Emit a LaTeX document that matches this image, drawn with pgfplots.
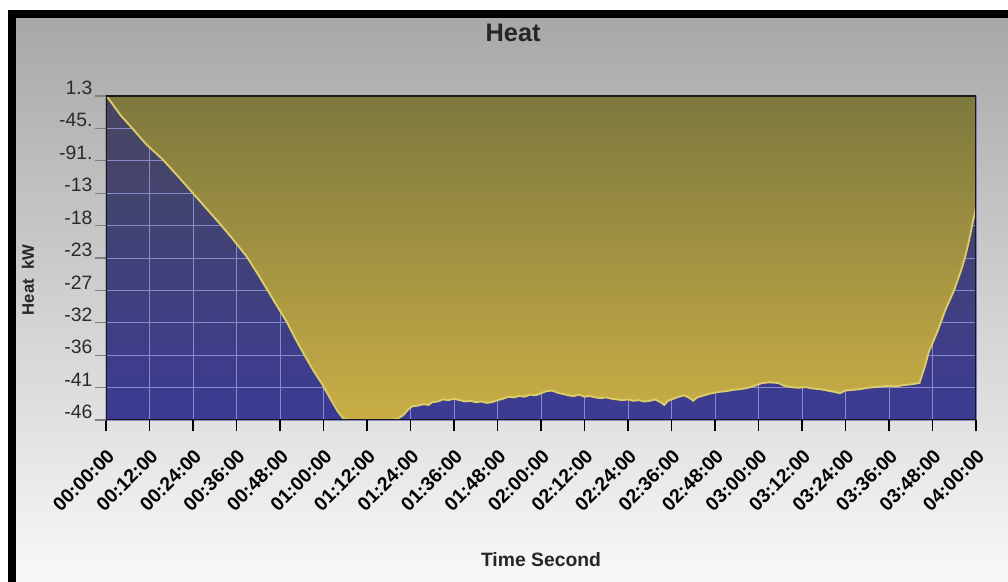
\documentclass[border=0pt]{standalone}
\usepackage{pgfplots}
\usepackage{pgfplotstable}
\pgfplotsset{compat=1.18}
\usepackage{fontspec}
\setmainfont{Liberation Sans}

\definecolor{bgtop}{HTML}{A8A8A8}
\definecolor{bgmid}{HTML}{DADADA}
\definecolor{bgbot}{HTML}{F8F8F8}
\definecolor{navytop}{HTML}{47475F}
\definecolor{navybot}{HTML}{3B3B94}
\definecolor{goldtop}{HTML}{7D783E}
\definecolor{goldbot}{HTML}{C9AE45}
\definecolor{gridc}{HTML}{8A8AC8}
\definecolor{linec}{HTML}{DDCC6A}
\definecolor{ylab}{HTML}{2A2A2A}

\pgfplotstableread{
t v
0 1.3
1 0.7
4 -1.5
7.4 -3.5
11 -5.7
15.7 -8.0
20 -10.5
24 -12.9
28 -15.3
31.5 -17.4
35 -19.6
38.9 -22.2
42 -24.8
44.4 -26.9
47 -29.2
49.9 -31.7
52 -33.9
54.4 -36.2
57 -38.6
59.9 -41.0
62 -43.0
64 -44.8
65.5 -45.8
67 -46
79 -46
80.5 -45.8
82 -45.3
83.5 -44.4
84.5 -44.0
86 -43.9
87.5 -43.7
89 -43.8
90 -43.4
91.5 -43.3
93 -43.0
94.5 -43.1
96 -42.9
97.5 -43.1
99 -43.3
100.5 -43.2
102 -43.4
103.5 -43.3
105 -43.5
106.5 -43.4
108 -43.1
109.5 -42.9
111 -42.6
112.5 -42.7
114 -42.5
115.5 -42.6
117 -42.3
118.5 -42.4
120 -42.1
121.5 -41.8
123 -41.7
124.5 -42.0
126 -42.2
127.5 -42.4
129 -42.5
130.5 -42.3
132 -42.6
133.5 -42.5
135 -42.7
136.5 -42.8
138 -42.7
139.5 -42.9
141 -43.0
142.5 -43.1
144 -43.0
145.5 -43.2
147 -43.1
148.5 -43.3
150 -43.2
151.5 -43.0
153 -43.4
154 -43.8
155 -43.2
156.5 -42.9
158 -42.6
159.5 -42.4
161 -42.8
162 -43.2
163 -42.7
165 -42.4
167 -42.1
169 -41.9
171 -41.8
173 -41.6
175 -41.5
177 -41.3
179 -41.0
181 -40.6
183 -40.5
185.5 -40.6
187 -41.0
189 -41.2
191 -41.3
193 -41.2
195 -41.4
197 -41.5
199 -41.7
201 -41.9
202.5 -42.1
204 -41.7
206 -41.6
208 -41.5
210 -41.3
212 -41.2
214 -41.1
216 -41.0
218 -41.1
220 -40.9
222 -40.8
224.4 -40.6
226 -38.0
227 -36.0
228 -34.8
229.5 -32.9
231.5 -30.0
234 -27.0
236 -24.0
237 -22.2
238 -20.0
239 -17.4
240 -15.0
}\curve

\begin{document}
\begin{tikzpicture}
\useasboundingbox (0,0) rectangle (756pt,436.5pt);
\fill[white] (0,0) rectangle (756pt,436.5pt);
\shade[top color=bgtop, middle color=bgmid, bottom color=bgbot] (12pt,0) rectangle (756pt,423pt);
\fill[black] (6pt,0) rectangle (12pt,429pt);
\fill[black] (6pt,423pt) rectangle (756pt,429pt);
\begin{axis}[
  at={(79.5pt,121.5pt)}, anchor=south west,
  scale only axis, width=652.5pt, height=243pt,
  xmin=0, xmax=240, ymin=-46, ymax=1.3,
  xtick={0,12,...,240},
  xticklabels={00:00:00,00:12:00,00:24:00,00:36:00,00:48:00,01:00:00,01:12:00,01:24:00,01:36:00,01:48:00,02:00:00,02:12:00,02:24:00,02:36:00,02:48:00,03:00:00,03:12:00,03:24:00,03:36:00,03:48:00,04:00:00},
  ytick={1.3,-3.43,-8.16,-12.89,-17.62,-22.35,-27.08,-31.81,-36.54,-41.27,-46},
  yticklabels={1.3,-45.,-91.,-13,-18,-23,-27,-32,-36,-41,-46},
  xtick pos=lower, ytick pos=left,
  grid=major,
  major grid style={gridc, line width=0.7pt},
  axis background/.style={top color=navytop, bottom color=navybot},
  axis line style={draw=none},
  tick align=outside,
  major tick length=8.5pt,
  x tick style={black, line width=1.2pt},
  y tick style={gray, line width=0.8pt},
  xticklabel style={font=\bfseries\fontsize{14.5}{14.5}\selectfont, inner sep=0pt, xshift=3.75pt, yshift=-16pt, rotate=45, anchor=east},
  yticklabel style={font=\fontsize{14.5}{14.5}\selectfont, text=ylab, inner sep=0pt, xshift=-1.5pt, yshift=6pt, anchor=east},
  title={Heat},
  every axis title shift=0pt,
  title style={at={(axis description cs:0.468,1.194)}, anchor=center, font=\bfseries\fontsize{19}{19}\selectfont, text=black!85},
  xlabel={Time Second},
  xlabel style={at={(axis description cs:0.5,-0.432)}, anchor=center, font=\bfseries\fontsize{14.5}{14.5}\selectfont, text=black!85},
  ylabel={Heat\ \ kW},
  ylabel style={at={(axis description cs:-0.0897,0.432)}, anchor=center, font=\bfseries\fontsize{12.5}{12.5}\selectfont, text=black!85},
]
\addplot[draw=none, top color=goldtop, bottom color=goldbot] table[x=t, y=v] {\curve} -- (axis cs:240,1.3) -- (axis cs:0,1.3) -- cycle;
\addplot[linec, line width=1.4pt] table[x=t, y=v] {\curve};
\draw[black!90, line width=1.1pt] (rel axis cs:0,0) rectangle (rel axis cs:1,1);
\end{axis}
\end{tikzpicture}
\end{document}
